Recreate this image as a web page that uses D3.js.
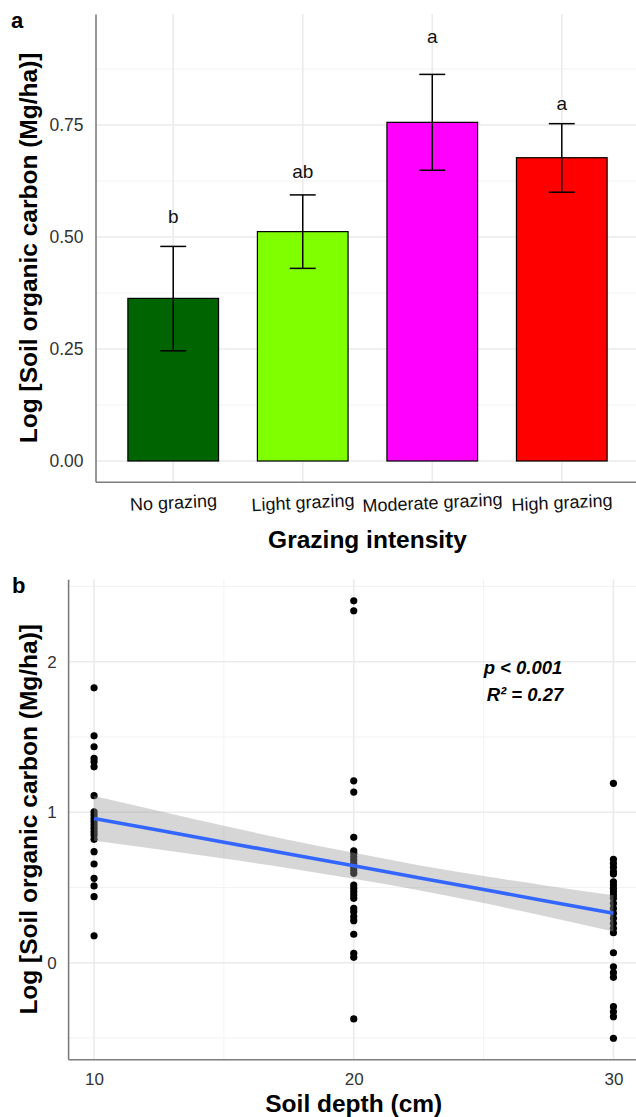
<!DOCTYPE html>
<html><head><meta charset="utf-8">
<script src="https://cdn.jsdelivr.net/npm/d3@7"></script>
<style>
html,body{margin:0;padding:0;background:#fff;}
svg{display:block;font-family:"Liberation Sans",Arial,sans-serif;}
</style></head>
<body><svg id="chart" width="636" height="1117"></svg>
<script>
// ---------- Panel a data ----------
const categories = ["No grazing", "Light grazing", "Moderate grazing", "High grazing"];
const meanValues = [0.363, 0.512, 0.756, 0.677];
const errLow = [0.246, 0.430, 0.649, 0.600];
const errHigh = [0.479, 0.594, 0.863, 0.753];
const groupLetters = ["b", "ab", "a", "a"];
const letterY = [0.532, 0.631, 0.932, 0.783];
const barColors = ["#006400", "#7FFF00", "#FF00FF", "#FF0000"];
const yTicksA = [0, 0.25, 0.5, 0.75];
const yMinorA = [0.125, 0.375, 0.625, 0.875];

// ---------- Panel b data ----------
const depth10 = [1.827, 1.508, 1.435, 1.358, 1.336, 1.302, 1.110, 1.003, 0.981, 0.959, 0.937, 0.915, 0.893, 0.870, 0.849, 0.820, 0.738, 0.656, 0.561, 0.510, 0.439, 0.179];
const depth20 = [2.405, 2.339, 1.209, 1.134, 0.833, 0.744, 0.727, 0.704, 0.682, 0.660, 0.638, 0.616, 0.594, 0.516, 0.494, 0.472, 0.450, 0.428, 0.361, 0.339, 0.306, 0.279, 0.189, 0.062, 0.036, -0.374];
const depth30 = [1.192, 0.687, 0.660, 0.634, 0.605, 0.589, 0.538, 0.516, 0.494, 0.472, 0.450, 0.428, 0.395, 0.361, 0.328, 0.295, 0.262, 0.229, 0.199, 0.066, -0.027, -0.066, -0.097, -0.292, -0.326, -0.359, -0.502];
const fitX = [10, 12.5, 15, 17.5, 20, 22.5, 25, 27.5, 30];
const fitY = [0.959, 0.880, 0.801, 0.722, 0.644, 0.565, 0.486, 0.407, 0.328];
const bandLower = [0.810, 0.752, 0.692, 0.628, 0.558, 0.482, 0.396, 0.304, 0.208];
const bandUpper = [1.108, 1.008, 0.910, 0.816, 0.730, 0.648, 0.576, 0.510, 0.448];
const xTicksB = [10, 20, 30];
const xMinorB = [15, 25];
const yTicksB = [0, 1, 2];
const yMinorB = [-0.5, 0.5, 1.5, 2.5];

const svg = d3.select("#chart");
const gridMajor = "#ebebeb", gridMinor = "#f2f2f2", axisCol = "#7d7d7d";

// ================= Panel a =================
const A = {left: 95.5, right: 639.5, top: 14, bottom: 481.7};
const xA = d3.scalePoint().domain(categories).range([A.left, A.right]).padding(0.6);
const stepA = xA.step();
const yA = d3.scaleLinear().domain([-0.0462, 0.9978]).range([A.bottom, A.top]);

const ga = svg.append("g");
ga.selectAll("line.minor").data(yMinorA).join("line")
  .attr("x1", A.left).attr("x2", A.right).attr("y1", d => yA(d)).attr("y2", d => yA(d))
  .attr("stroke", gridMinor).attr("stroke-width", 1);
ga.selectAll("line.majh").data(yTicksA).join("line")
  .attr("x1", A.left).attr("x2", A.right).attr("y1", d => yA(d)).attr("y2", d => yA(d))
  .attr("stroke", gridMajor).attr("stroke-width", 1.6);
ga.selectAll("line.majv").data(categories).join("line")
  .attr("x1", d => xA(d)).attr("x2", d => xA(d)).attr("y1", A.top).attr("y2", A.bottom)
  .attr("stroke", gridMajor).attr("stroke-width", 1.6);

const barW = stepA * 0.7;
ga.selectAll("rect.bar").data(categories).join("rect")
  .attr("x", d => xA(d) - barW / 2)
  .attr("y", (d, i) => yA(meanValues[i]))
  .attr("width", barW)
  .attr("height", (d, i) => yA(0) - yA(meanValues[i]))
  .attr("fill", (d, i) => barColors[i])
  .attr("stroke", "#000").attr("stroke-width", 1.2);

const capW = stepA * 0.2;
categories.forEach((c, i) => {
  const cx = xA(c);
  ga.append("line").attr("x1", cx).attr("x2", cx).attr("y1", yA(errLow[i])).attr("y2", yA(errHigh[i])).attr("stroke", "#000").attr("stroke-width", 1.5);
  ga.append("line").attr("x1", cx - capW / 2).attr("x2", cx + capW / 2).attr("y1", yA(errLow[i])).attr("y2", yA(errLow[i])).attr("stroke", "#000").attr("stroke-width", 1.5);
  ga.append("line").attr("x1", cx - capW / 2).attr("x2", cx + capW / 2).attr("y1", yA(errHigh[i])).attr("y2", yA(errHigh[i])).attr("stroke", "#000").attr("stroke-width", 1.5);
});
ga.selectAll("text.letter").data(categories).join("text")
  .attr("x", d => xA(d)).attr("y", (d, i) => yA(letterY[i]))
  .attr("text-anchor", "middle").attr("font-size", 19).attr("fill", "#111")
  .text((d, i) => groupLetters[i]);

// axes a
const axLA = ga.append("g").attr("transform", `translate(${A.left},0)`)
  .call(d3.axisLeft(yA).tickValues(yTicksA).tickFormat(d3.format(".2f")).tickSize(0).tickPadding(12).tickSizeOuter(0));
axLA.select(".domain").attr("stroke", axisCol).attr("stroke-width", 1.6);
axLA.selectAll("text").attr("font-size", 17.5).attr("fill", "#333").attr("font-family", "Liberation Sans, Arial, sans-serif");

const axBA = ga.append("g").attr("transform", `translate(0,${A.bottom})`)
  .call(d3.axisBottom(xA).tickSize(0).tickSizeOuter(0));
axBA.select(".domain").attr("stroke", axisCol).attr("stroke-width", 1.6);
axBA.selectAll("text").attr("font-size", 18).attr("fill", "#111").attr("font-family", "Liberation Sans, Arial, sans-serif")
  .attr("y", 27).attr("dy", 0).attr("transform", "rotate(-2.8,0,27)");

ga.append("text").attr("x", (A.left + A.right) / 2).attr("y", 548)
  .attr("text-anchor", "middle").attr("font-size", 24.5).attr("font-weight", "bold").attr("fill", "#000")
  .text("Grazing intensity");
ga.append("text").attr("transform", `translate(37,${(A.top + A.bottom) / 2}) rotate(-90)`)
  .attr("text-anchor", "middle").attr("font-size", 24.5).attr("font-weight", "bold").attr("fill", "#000")
  .text("Log [Soil organic carbon (Mg/ha)]");
ga.append("text").attr("x", 11).attr("y", 28).attr("font-size", 22).attr("font-weight", "bold").text("a");

// ================= Panel b =================
const B = {left: 68.1, right: 639.4, top: 579.3, bottom: 1059.3};
const xB = d3.scaleLinear().domain([9, 31]).range([B.left, B.right]);
const yB = d3.scaleLinear().domain([-0.642, 2.548]).range([B.bottom, B.top]);
const gb = svg.append("g");

gb.selectAll("line.minh").data(yMinorB).join("line")
  .attr("x1", B.left).attr("x2", B.right).attr("y1", d => yB(d)).attr("y2", d => yB(d))
  .attr("stroke", gridMinor).attr("stroke-width", 1);
gb.selectAll("line.minv").data(xMinorB).join("line")
  .attr("x1", d => xB(d)).attr("x2", d => xB(d)).attr("y1", B.top).attr("y2", B.bottom)
  .attr("stroke", gridMinor).attr("stroke-width", 1);
gb.selectAll("line.majh").data(yTicksB).join("line")
  .attr("x1", B.left).attr("x2", B.right).attr("y1", d => yB(d)).attr("y2", d => yB(d))
  .attr("stroke", gridMajor).attr("stroke-width", 1.6);
gb.selectAll("line.majv").data(xTicksB).join("line")
  .attr("x1", d => xB(d)).attr("x2", d => xB(d)).attr("y1", B.top).attr("y2", B.bottom)
  .attr("stroke", gridMajor).attr("stroke-width", 1.6);

const pts = [].concat(
  depth10.map(v => ({x: 10, y: v})),
  depth20.map(v => ({x: 20, y: v})),
  depth30.map(v => ({x: 30, y: v}))
);
gb.selectAll("circle").data(pts).join("circle")
  .attr("cx", d => xB(d.x)).attr("cy", d => yB(d.y)).attr("r", 3.6).attr("fill", "#000");

const bandData = fitX.map((x, i) => ({x, lo: bandLower[i], hi: bandUpper[i], fit: fitY[i]}));
gb.append("path").datum(bandData)
  .attr("d", d3.area().x(d => xB(d.x)).y0(d => yB(d.lo)).y1(d => yB(d.hi)).curve(d3.curveMonotoneX))
  .attr("fill", "#999999").attr("fill-opacity", 0.4);
gb.append("path").datum(bandData)
  .attr("d", d3.line().x(d => xB(d.x)).y(d => yB(d.fit)))
  .attr("fill", "none").attr("stroke", "#3366FF").attr("stroke-width", 3.6);

const axLB = gb.append("g").attr("transform", `translate(${B.left},0)`)
  .call(d3.axisLeft(yB).tickValues(yTicksB).tickFormat(d3.format("d")).tickSize(0).tickPadding(11.5).tickSizeOuter(0));
axLB.select(".domain").attr("stroke", axisCol).attr("stroke-width", 1.6);
axLB.selectAll("text").attr("font-size", 17).attr("fill", "#333").attr("font-family", "Liberation Sans, Arial, sans-serif");
const axBB = gb.append("g").attr("transform", `translate(0,${B.bottom})`)
  .call(d3.axisBottom(xB).tickValues(xTicksB).tickFormat(d3.format("d")).tickSize(0).tickSizeOuter(0));
axBB.select(".domain").attr("stroke", axisCol).attr("stroke-width", 1.6);
axBB.selectAll("text").attr("font-size", 17).attr("fill", "#333").attr("font-family", "Liberation Sans, Arial, sans-serif")
  .attr("y", 25.7).attr("dy", 0);

gb.append("text").attr("x", 523).attr("y", 673.5).attr("text-anchor", "middle")
  .attr("font-size", 18.5).attr("font-weight", "bold").attr("font-style", "italic").text("p < 0.001");
gb.append("text").attr("x", 525).attr("y", 700.5).attr("text-anchor", "middle")
  .attr("font-size", 18.5).attr("font-weight", "bold").attr("font-style", "italic").text("R² = 0.27");

gb.append("text").attr("x", (B.left + B.right) / 2).attr("y", 1112)
  .attr("text-anchor", "middle").attr("font-size", 24.5).attr("font-weight", "bold").attr("fill", "#000")
  .text("Soil depth (cm)");
gb.append("text").attr("transform", `translate(37,${(B.top + B.bottom) / 2}) rotate(-90)`)
  .attr("text-anchor", "middle").attr("font-size", 24.5).attr("font-weight", "bold").attr("fill", "#000")
  .text("Log [Soil organic carbon (Mg/ha)]");
gb.append("text").attr("x", 12).attr("y", 593).attr("font-size", 22).attr("font-weight", "bold").text("b");
</script></body></html>
